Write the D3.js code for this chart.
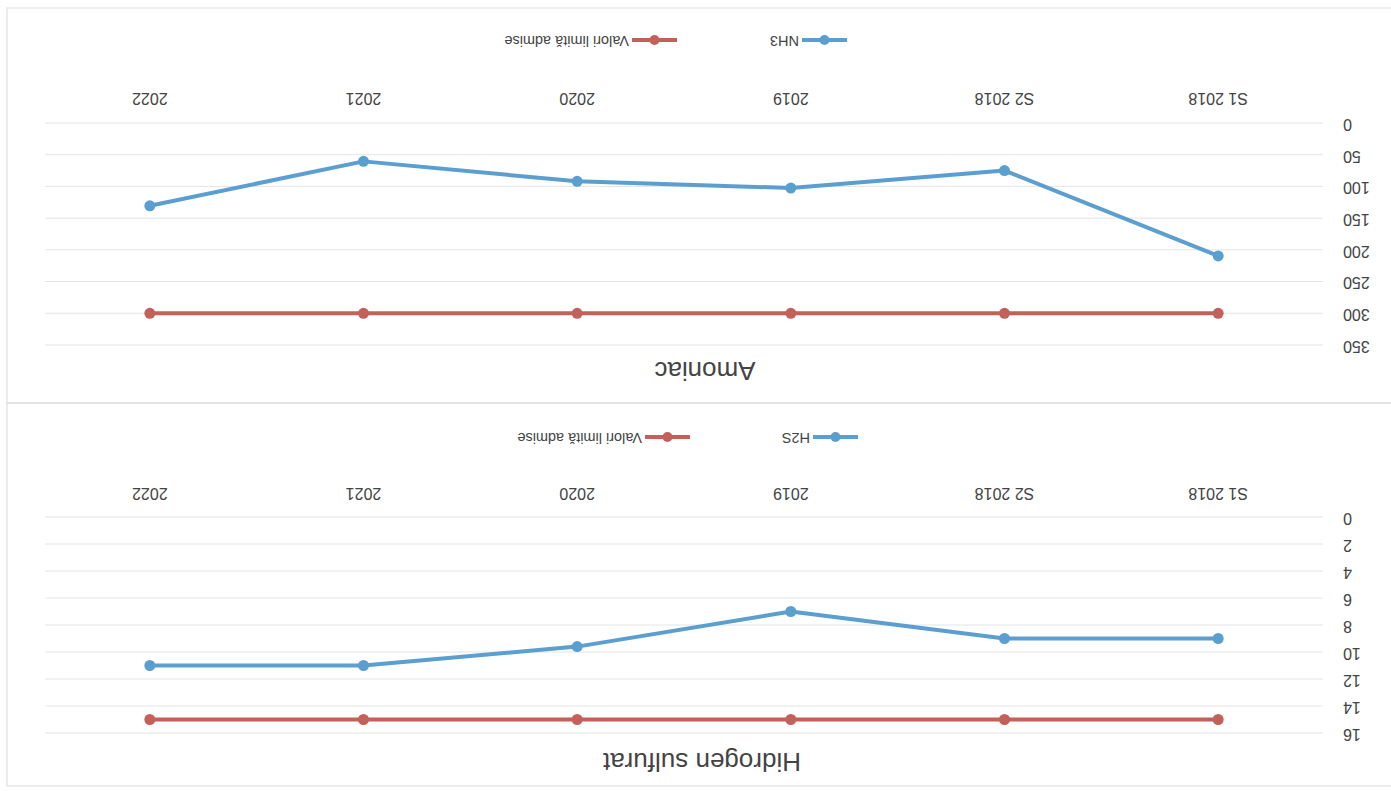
<!DOCTYPE html>
<html>
<head>
<meta charset="utf-8">
<script src="https://cdn.jsdelivr.net/npm/d3@7"></script>
<style>
  html, body { margin: 0; padding: 0; background: #fff; }
  svg { display: block; }
  text { font-family: "Liberation Sans", Arial, sans-serif; fill: #444; }
</style>
</head>
<body>
<svg id="chart" width="1391" height="791"></svg>
<script>
// ---- data ----
const categories = ["S1 2018", "S2 2018", "2019", "2020", "2021", "2022"];

const h2sTitle = "Hidrogen sulfurat";
const h2sName = "H2S";
const h2sValues = [9, 9, 7, 9.6, 11, 11];
const h2sLimit = [15, 15, 15, 15, 15, 15];
const h2sTicks = [0, 2, 4, 6, 8, 10, 12, 14, 16];

const nh3Title = "Amoniac";
const nh3Name = "NH3";
const nh3Values = [209.5, 75, 102.5, 92, 60.5, 130.5];
const nh3Limit = [300, 300, 300, 300, 300, 300];
const nh3Ticks = [0, 50, 100, 150, 200, 250, 300, 350];

const limitName = "Valori limită admise";

// ---- drawing ----
const W = 1391, H = 791;
const svg = d3.select("#chart");
svg.append("rect").attr("width", W).attr("height", H).attr("fill", "#fff");

// the scanned page is upside down: draw normally, then rotate 180°
const root = svg.append("g").attr("transform", `rotate(180, ${W / 2}, ${H / 2})`);

const blue = "#5a9fcf", red = "#c4605a";

function panel(cfg) {
  const g = root.append("g");
  g.append("rect")
    .attr("x", -10).attr("y", cfg.boxTop)
    .attr("width", 1394).attr("height", cfg.boxBottom - cfg.boxTop)
    .attr("fill", "none").attr("stroke", "#e0e0e0").attr("stroke-width", 1.2);

  const x = d3.scalePoint().domain(categories).range([66, 1348]).padding(0.5);
  const y = d3.scaleLinear().domain([0, d3.max(cfg.ticks)]).range([cfg.y0, cfg.y1]);

  // gridlines
  g.append("g").selectAll("line").data(cfg.ticks).join("line")
    .attr("x1", 68).attr("x2", 1346)
    .attr("y1", d => y(d)).attr("y2", d => y(d))
    .attr("stroke", "#e4e4e4").attr("stroke-width", 1);

  // y tick labels
  g.append("g").selectAll("text").data(cfg.ticks).join("text")
    .attr("x", 48).attr("y", d => y(d))
    .attr("text-anchor", "end").attr("dominant-baseline", "middle")
    .attr("font-size", 16).text(d => d);

  // category labels
  g.append("g").selectAll("text").data(categories).join("text")
    .attr("x", d => x(d)).attr("y", cfg.catY)
    .attr("text-anchor", "middle").attr("font-size", 16).text(d => d);

  // title
  g.append("text").attr("x", cfg.titleX).attr("y", cfg.titleY)
    .attr("text-anchor", "middle").attr("font-size", 26).attr("fill", "#333").text(cfg.title);

  const line = d3.line().x((d, i) => x(categories[i])).y(d => y(d));
  const series = [
    { name: cfg.name, values: cfg.values, color: blue },
    { name: limitName, values: cfg.limit, color: red }
  ];
  series.forEach(s => {
    g.append("path").datum(s.values).attr("d", line)
      .attr("fill", "none").attr("stroke", s.color)
      .attr("stroke-width", 4).attr("stroke-linejoin", "round");
    g.append("g").selectAll("circle").data(s.values).join("circle")
      .attr("cx", (d, i) => x(categories[i])).attr("cy", d => y(d))
      .attr("r", 5.5).attr("fill", s.color);
  });

  // legend
  const lg = g.append("g");
  series.forEach((s, i) => {
    const x0 = cfg.legendX[i];
    lg.append("line").attr("x1", x0).attr("x2", x0 + 45)
      .attr("y1", cfg.legendY).attr("y2", cfg.legendY)
      .attr("stroke", s.color).attr("stroke-width", 4);
    lg.append("circle").attr("cx", x0 + 22.5).attr("cy", cfg.legendY)
      .attr("r", 5).attr("fill", s.color);
    lg.append("text").attr("x", x0 + 48).attr("y", cfg.legendY)
      .attr("dominant-baseline", "middle").attr("font-size", 14.5).text(s.name);
  });
}

panel({
  title: h2sTitle, name: h2sName, values: h2sValues, limit: h2sLimit, ticks: h2sTicks,
  boxTop: 5, boxBottom: 388, y0: 274, y1: 58, catY: 303,
  titleX: 689, titleY: 38, legendY: 354, legendX: [533, 701]
});

panel({
  title: nh3Title, name: nh3Name, values: nh3Values, limit: nh3Limit, ticks: nh3Ticks,
  boxTop: 388, boxBottom: 783, y0: 668, y1: 446, catY: 698,
  titleX: 686, titleY: 429, legendY: 751, legendX: [544, 714]
});
</script>
</body>
</html>
